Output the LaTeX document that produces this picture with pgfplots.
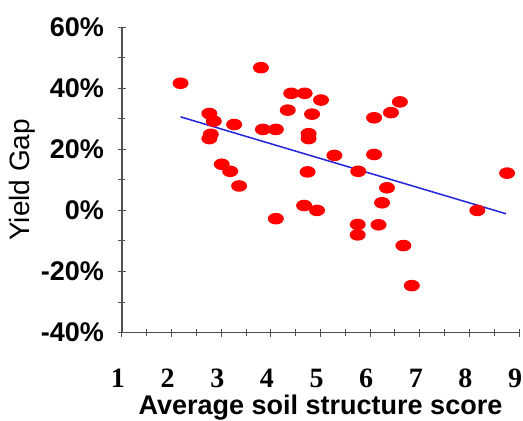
\documentclass[border=0pt]{standalone}
\usepackage{pgfplots}
\pgfplotsset{compat=1.18}
\usepackage{fontspec}
\setmainfont{Liberation Sans}
\newfontfamily\serifnum{Liberation Serif}
\definecolor{axgray}{RGB}{80,80,80}
\definecolor{ptred}{RGB}{255,0,0}
\definecolor{lineblue}{RGB}{35,35,220}
\pgfdeclareplotmark{ell}{%
  \pgfpathellipse{\pgfpointorigin}{\pgfpoint{8bp}{0pt}}{\pgfpoint{0pt}{5.8bp}}%
  \pgfusepathqfill}
\begin{document}
\begin{tikzpicture}
\useasboundingbox (-122bp,-88.3bp) rectangle (401bp,332.7bp);
\begin{axis}[
  at={(0,0)}, anchor=south west,
  scale only axis, width=397bp, height=305.7bp,
  xmin=1, xmax=9, ymin=-40, ymax=60,
  clip=false,
  axis lines=left,
  axis line style={-, draw=axgray, line width=1.3bp},
  xtick={1,2,...,9},
  xticklabels={1,2,3,4,5,6,7,8,9},
  minor x tick num=1,
  ytick={-40,-20,0,20,40,60},
  yticklabels={-40\%,-20\%,0\%,20\%,40\%,60\%},
  minor y tick num=1,
  tick align=center,
  major tick length=8bp, minor tick length=7bp,
  tick style={draw=axgray, line width=1bp},
  xticklabel style={font=\fontsize{28bp}{30bp}\selectfont\serifnum\bfseries, anchor=base, inner sep=0pt, yshift=-51bp, xshift=-4bp},
  yticklabel style={font=\fontsize{27bp}{30bp}\selectfont\bfseries, anchor=east, inner sep=0pt, xshift=-14bp},
  xlabel={Average soil structure score},
  ylabel={Yield Gap},
  xlabel style={font=\fontsize{27bp}{30bp}\selectfont\bfseries, at={(axis description cs:0.5,-0.269)}, anchor=base, inner sep=0pt},
  ylabel style={font=\fontsize{28bp}{30bp}\selectfont, at={(axis description cs:-0.252,0.5)}, anchor=center, inner sep=0pt},
]
\addplot[only marks, mark=ell, color=ptred] table[row sep=\\] {
x y\\
2.18 41.6\\
3.80 46.7\\
2.76 31.7\\
2.85 29.2\\
3.26 28.1\\
2.79 24.9\\
2.76 23.5\\
4.41 38.3\\
4.68 38.3\\
5.01 36.1\\
4.34 32.8\\
4.83 31.5\\
3.84 26.5\\
4.10 26.5\\
4.76 25.1\\
4.76 23.5\\
3.01 15.1\\
3.18 12.8\\
3.36 8.0\\
4.74 12.6\\
5.28 18.0\\
5.76 12.8\\
6.08 30.3\\
6.42 32.0\\
6.60 35.5\\
6.08 18.3\\
8.76 12.2\\
6.34 7.4\\
4.10 -2.7\\
4.67 1.6\\
4.93 0.0\\
6.24 2.5\\
5.75 -4.6\\
5.75 -8.0\\
6.17 -4.7\\
6.67 -11.5\\
6.84 -24.6\\
8.16 0.0\\
};
\addplot[color=lineblue, line width=1.5bp] coordinates {(2.18,30.6) (8.74,-1.1)};
\end{axis}
\end{tikzpicture}
\end{document}
